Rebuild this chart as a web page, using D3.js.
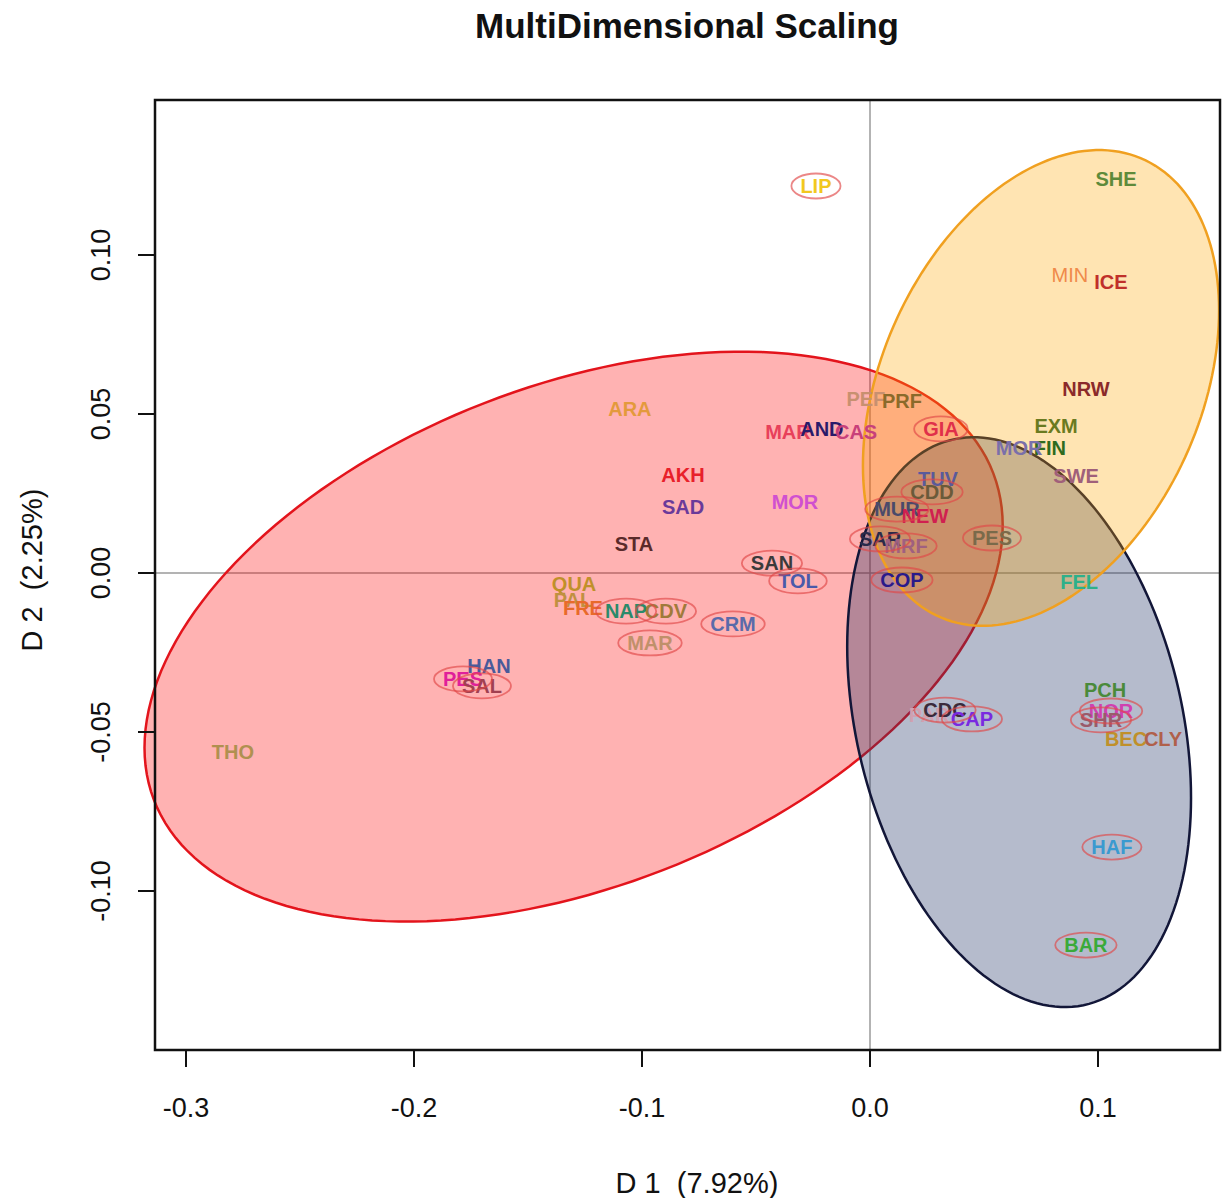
<!DOCTYPE html>
<html>
<head>
<meta charset="utf-8">
<script src="https://cdn.jsdelivr.net/npm/d3@7"></script>
<style>
  body { margin: 0; background: #fff; }
  text { font-family: "Liberation Sans", Arial, Helvetica, sans-serif; }
</style>
</head>
<body>
<div id="chart"></div>
<script>
// population codes and MDS coordinates (D1, D2)
const codes = ["LIP","SHE","MIN","ICE","NRW","EXM","FIN","MOR","SWE","FEL",
  "PEF","PRF","GIA","MAR","AND","CAS","ARA","AKH","SAD","MOR",
  "STA","TUV","CDD","MUR","NEW","SAR","MRF","PES","SAN","TOL",
  "COP","QUA","PAL","FRE","NAP","CDV","CRM","MAR","HAN","PES",
  "SAL","THO","PAR","CDC","CAP","PCH","NOR","SHR","BEC","CLY",
  "HAF","BAR"];
const d1 = [-0.0237,0.1079,0.0877,0.1057,0.0947,0.0816,0.0789,0.0654,0.0904,0.0917,
  -0.0018,0.0140,0.0311,-0.0360,-0.0211,-0.0061,-0.1053,-0.0820,-0.0820,-0.0329,
  -0.1035,0.0298,0.0272,0.0118,0.0241,0.0044,0.0158,0.0535,-0.0430,-0.0316,
  0.0140,-0.1298,-0.1303,-0.1259,-0.1070,-0.0895,-0.0601,-0.0965,-0.1671,-0.1785,
  -0.1702,-0.2794,0.0259,0.0329,0.0447,0.1031,0.1057,0.1013,0.1123,0.1285,
  0.1061,0.0947];
const d2 = [0.1217,0.1239,0.0937,0.0915,0.0579,0.0462,0.0393,0.0393,0.0305,-0.0028,
  0.0547,0.0541,0.0453,0.0443,0.0453,0.0443,0.0516,0.0308,0.0208,0.0223,
  0.0091,0.0296,0.0255,0.0201,0.0179,0.0107,0.0085,0.0110,0.0031,-0.0025,
  -0.0022,-0.0035,-0.0085,-0.0110,-0.0120,-0.0120,-0.0160,-0.0220,-0.0292,-0.0333,
  -0.0355,-0.0563,-0.0447,-0.0431,-0.0459,-0.0368,-0.0434,-0.0462,-0.0522,-0.0522,
  -0.0862,-0.1170];
const ringed = [1,0,0,0,0,0,0,0,0,0,
  0,0,1,0,0,0,0,0,0,0,
  0,0,1,1,0,1,1,1,1,1,
  1,0,0,0,1,1,1,1,0,1,
  1,0,0,1,1,0,1,1,0,0,
  1,1];
const labelColors = ["#F2C81E","#5E8A3A","#F08A4A","#C0302A","#8B2A2A","#6A7A20","#2E6B1E","#7A6FAA","#A0607A","#2EB08A",
  "#C89070","#8B6A2A","#E0304A","#E8405A","#2A1A6A","#C8407A","#E39A3C","#E8202A","#6A3A9A","#D050D0",
  "#5A2A2A","#5A5A9A","#6A5A3A","#4A4A6A","#D02050","#2A2A4A","#A06080","#7A6A4A","#3A3A3A","#4A5AAA",
  "#2A1A8A","#C0902A","#C09040","#E86A2A","#2A8A6A","#A07A3A","#5A6AAA","#C0906A","#4A5A9A","#E0209A",
  "#A04050","#B09050","#D0A0B0","#3A2A3A","#7A2AE0","#4A8A3A","#D040B0","#9A5A6A","#C0902A","#B0604A",
  "#3A9AD0","#3AAA3A"];

// group ellipses: centre, spread on D1 and D2, correlation
const groupNames = ["west", "north", "south"];
const groupCx = [-0.1300, 0.0750, 0.0654];
const groupCy = [-0.0200, 0.0582, -0.0469];
const groupSx = [0.1882, 0.0781, 0.0754];
const groupSy = [0.0896, 0.0748, 0.0896];
const groupR = [0.39, 0.326, -0.265];
const groupFill = ["rgba(255,0,0,0.30)", "rgba(255,165,0,0.30)", "rgba(30,48,100,0.33)"];
const groupStroke = ["#E3141C", "#F0A020", "#121638"];
const drawOrder = [0, 2, 1];

const xTicks = [-0.3, -0.2, -0.1, 0.0, 0.1];
const xTickLabels = ["-0.3", "-0.2", "-0.1", "0.0", "0.1"];
const yTicks = [-0.10, -0.05, 0.00, 0.05, 0.10];
const yTickLabels = ["-0.10", "-0.05", "0.00", "0.05", "0.10"];

const W = 1222, H = 1198;
const box = {left: 155, right: 1220, top: 100, bottom: 1050};

const svg = d3.select("#chart").append("svg")
  .attr("width", W).attr("height", H);
svg.append("rect").attr("width", W).attr("height", H).attr("fill", "#fff");

const x = d3.scaleLinear().domain([-0.3136, 0.15351]).range([box.left, box.right]);
const y = d3.scaleLinear().domain([-0.15, 0.14874]).range([box.bottom, box.top]);

// reference lines at 0
svg.append("line")
  .attr("x1", x(0)).attr("x2", x(0)).attr("y1", box.top).attr("y2", box.bottom)
  .attr("stroke", "#9a9a9a").attr("stroke-width", 1.5);
svg.append("line")
  .attr("x1", box.left).attr("x2", box.right).attr("y1", y(0)).attr("y2", y(0))
  .attr("stroke", "#9a9a9a").attr("stroke-width", 1.5);

// group ellipses
function ellipsePath(i) {
  const pts = d3.range(0, 361, 2).map(deg => {
    const t = deg * Math.PI / 180;
    const ex = groupCx[i] + groupSx[i] * Math.cos(t);
    const ey = groupCy[i] + groupSy[i] * (groupR[i] * Math.cos(t) + Math.sqrt(1 - groupR[i] * groupR[i]) * Math.sin(t));
    return [x(ex), y(ey)];
  });
  return d3.line()(pts) + "Z";
}

svg.append("g").selectAll("path")
  .data(drawOrder)
  .enter().append("path")
  .attr("d", i => ellipsePath(i))
  .attr("fill", i => groupFill[i])
  .attr("stroke", i => groupStroke[i])
  .attr("stroke-width", 2.5);

// labels
const pts = codes.map((c, i) => ({code: c, d1: d1[i], d2: d2[i], col: labelColors[i], ring: ringed[i]}));

const lab = svg.append("g").selectAll("text")
  .data(pts)
  .enter().append("text")
  .attr("x", d => x(d.d1))
  .attr("y", d => y(d.d2))
  .attr("dy", "0.36em")
  .attr("text-anchor", "middle")
  .attr("font-size", 20)
  .attr("font-weight", d => d.code === "MIN" ? "normal" : "bold")
  .attr("fill", d => d.col)
  .text(d => d.code);

// rings around some labels
lab.each(function (d) { d.w = this.getComputedTextLength(); });
svg.append("g").selectAll("ellipse")
  .data(pts.filter(d => d.ring))
  .enter().append("ellipse")
  .attr("cx", d => x(d.d1))
  .attr("cy", d => y(d.d2))
  .attr("rx", d => d.w / 2 + 9)
  .attr("ry", 12.5)
  .attr("fill", "none")
  .attr("stroke", "rgba(225,70,70,0.65)")
  .attr("stroke-width", 1.8);

// frame
svg.append("rect")
  .attr("x", box.left).attr("y", box.top)
  .attr("width", box.right - box.left).attr("height", box.bottom - box.top)
  .attr("fill", "none").attr("stroke", "#111").attr("stroke-width", 2.5);

// x axis
const gx = svg.append("g");
gx.selectAll("line.tick").data(xTicks).enter().append("line")
  .attr("class", "tick")
  .attr("x1", d => x(d)).attr("x2", d => x(d))
  .attr("y1", box.bottom).attr("y2", box.bottom + 17)
  .attr("stroke", "#111").attr("stroke-width", 2);
gx.selectAll("text").data(xTicks).enter().append("text")
  .attr("x", d => x(d)).attr("y", box.bottom + 67)
  .attr("text-anchor", "middle").attr("font-size", 27).attr("fill", "#111")
  .text((d, i) => xTickLabels[i]);

// y axis
const gy = svg.append("g");
gy.selectAll("line").data(yTicks).enter().append("line")
  .attr("x1", box.left - 17).attr("x2", box.left)
  .attr("y1", d => y(d)).attr("y2", d => y(d))
  .attr("stroke", "#111").attr("stroke-width", 2);
gy.selectAll("text").data(yTicks).enter().append("text")
  .attr("transform", d => `translate(${box.left - 45},${y(d)}) rotate(-90)`)
  .attr("text-anchor", "middle").attr("font-size", 27).attr("fill", "#111")
  .text((d, i) => yTickLabels[i]);

// titles
svg.append("text")
  .attr("x", 687).attr("y", 38)
  .attr("text-anchor", "middle").attr("font-size", 35).attr("font-weight", "bold")
  .attr("fill", "#111")
  .text("MultiDimensional Scaling");
svg.append("text")
  .attr("x", 697).attr("y", 1193)
  .attr("text-anchor", "middle").attr("font-size", 29).attr("fill", "#111")
  .attr("xml:space", "preserve")
  .text("D 1  (7.92%)");
svg.append("text")
  .attr("transform", `translate(42,${y(0) - 3}) rotate(-90)`)
  .attr("text-anchor", "middle").attr("font-size", 29).attr("fill", "#111")
  .attr("xml:space", "preserve")
  .text("D 2  (2.25%)");
</script>
</body>
</html>
